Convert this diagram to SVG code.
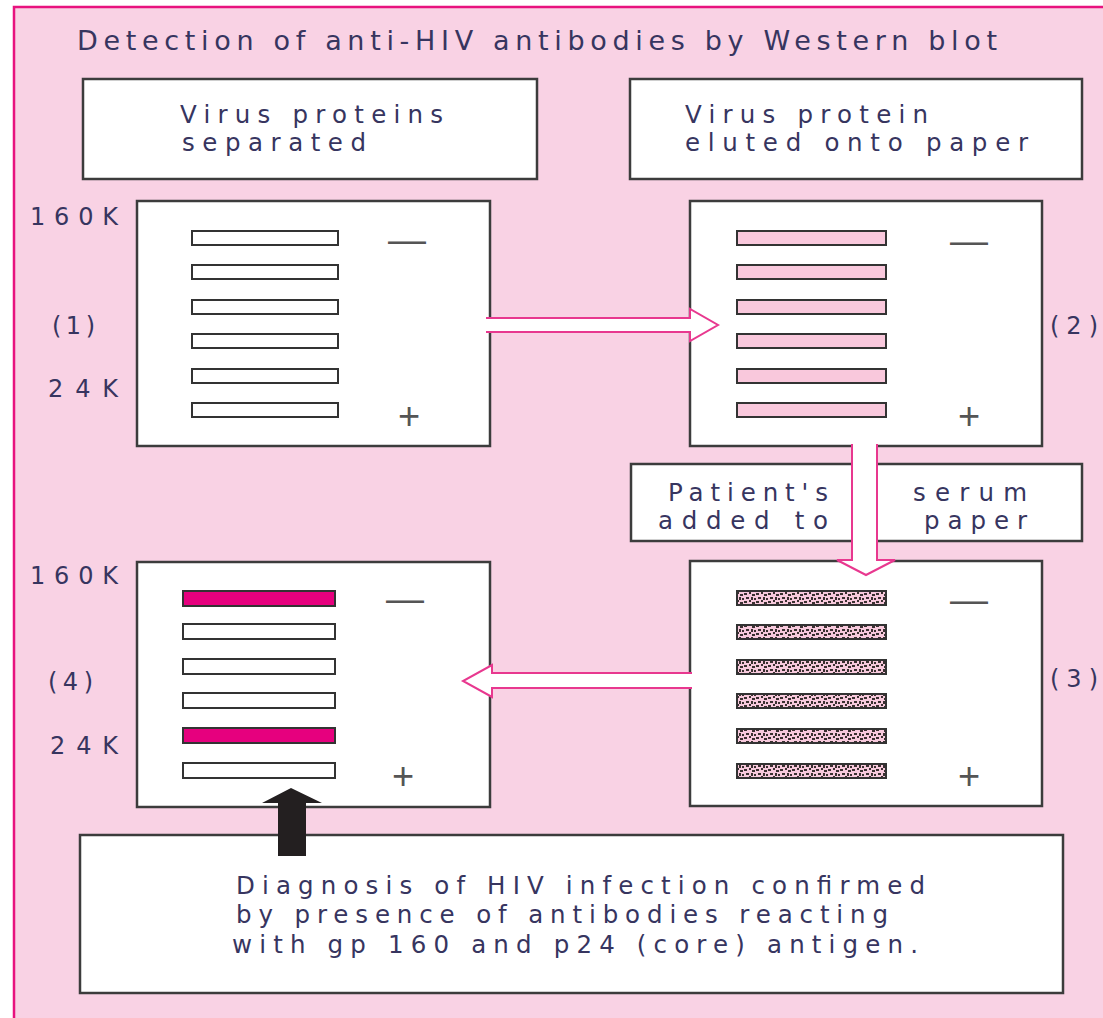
<svg xmlns="http://www.w3.org/2000/svg" width="1103" height="1018" viewBox="0 0 1103 1018">
<defs>
<pattern id="speck" width="12" height="8" patternUnits="userSpaceOnUse">
<rect width="12" height="8" fill="#f7c9dc"/>
<rect x="0" y="1" width="3" height="2" fill="#3a3030"/>
<rect x="5" y="0" width="2" height="2" fill="#3a3030"/>
<rect x="8" y="2" width="3" height="2" fill="#3a3030"/>
<rect x="2" y="5" width="3" height="2" fill="#3a3030"/>
<rect x="7" y="5" width="2" height="3" fill="#3a3030"/>
<rect x="10" y="6" width="2" height="2" fill="#3a3030"/>
</pattern>
</defs>
<style>
.box{fill:#ffffff;stroke:#3c3c3c;stroke-width:2.5}
.t{font-family:"DejaVu Sans",Verdana,sans-serif;fill:#37355f}
.big{font-size:24.5px}
.lab{font-size:24px}
.band{fill:#ffffff;stroke:#333;stroke-width:2}
.pband{fill:#f9c8dc;stroke:#333;stroke-width:2}
.dband{fill:url(#speck);stroke:#333;stroke-width:2}
.mband{fill:#e6007e;stroke:#333;stroke-width:2}
.sym{font-family:"Liberation Sans",Arial,sans-serif;font-size:38px;fill:#555}
.arr{fill:#ffffff;stroke:none}
.arrs{fill:none;stroke:#e8388f;stroke-width:2}
</style>
<rect x="0" y="0" width="1103" height="1018" fill="#ffffff"/>
<rect id="panel" x="14" y="7" width="1110" height="1030" fill="#f9d2e4" stroke="#e8127e" stroke-width="2.5"/>
<text class="t" x="77" y="50" font-size="27" textLength="920" lengthAdjust="spacing">Detection of anti-HIV antibodies by Western blot</text>

<g id="box-separated">
<rect class="box" x="83" y="79" width="454" height="100"/>
<text class="t big" x="180" y="123" textLength="263" lengthAdjust="spacing">Virus proteins</text>
<text class="t big" x="182" y="151" textLength="184" lengthAdjust="spacing">separated</text>
</g>
<g id="box-eluted">
<rect class="box" x="630" y="79" width="452" height="100"/>
<text class="t big" x="685" y="123" textLength="243" lengthAdjust="spacing">Virus protein</text>
<text class="t big" x="685" y="151" textLength="343" lengthAdjust="spacing">eluted onto paper</text>
</g>

<g id="strip1">
<rect class="box" x="137" y="201" width="353" height="245"/>
<rect class="band" x="192" y="231" width="146" height="14"/>
<rect class="band" x="192" y="265" width="146" height="14"/>
<rect class="band" x="192" y="300" width="146" height="14"/>
<rect class="band" x="192" y="334" width="146" height="14"/>
<rect class="band" x="192" y="369" width="146" height="14"/>
<rect class="band" x="192" y="403" width="146" height="14"/>
<text class="sym" x="388" y="253">—</text>
<text class="sym" x="398" y="429">+</text>
<text class="t lab" x="30" y="225" textLength="88" lengthAdjust="spacing">160K</text>
<text class="t lab" x="52" y="334" textLength="43" lengthAdjust="spacing">(1)</text>
<text class="t lab" x="48" y="397" textLength="70" lengthAdjust="spacing">24K</text>
</g>

<g id="strip2">
<rect class="box" x="690" y="201" width="352" height="245"/>
<rect class="pband" x="737" y="231" width="149" height="14"/>
<rect class="pband" x="737" y="265" width="149" height="14"/>
<rect class="pband" x="737" y="300" width="149" height="14"/>
<rect class="pband" x="737" y="334" width="149" height="14"/>
<rect class="pband" x="737" y="369" width="149" height="14"/>
<rect class="pband" x="737" y="403" width="149" height="14"/>
<text class="sym" x="950" y="254">—</text>
<text class="sym" x="958" y="429">+</text>
<text class="t lab" x="1050" y="334" textLength="48" lengthAdjust="spacing">(2)</text>
</g>

<g id="box-serum">
<rect class="box" x="631" y="464" width="451" height="77"/>
<text class="t big" x="668" y="501" textLength="160" lengthAdjust="spacing">Patient's</text>
<text class="t big" x="658" y="529" textLength="170" lengthAdjust="spacing">added to</text>
<text class="t big" x="913" y="501" textLength="114" lengthAdjust="spacing">serum</text>
<text class="t big" x="924" y="529" textLength="103" lengthAdjust="spacing">paper</text>
</g>

<g id="strip3">
<rect class="box" x="690" y="561" width="352" height="245"/>
<rect class="dband" x="737" y="591" width="149" height="14"/>
<rect class="dband" x="737" y="625" width="149" height="14"/>
<rect class="dband" x="737" y="660" width="149" height="14"/>
<rect class="dband" x="737" y="694" width="149" height="14"/>
<rect class="dband" x="737" y="729" width="149" height="14"/>
<rect class="dband" x="737" y="764" width="149" height="14"/>
<text class="sym" x="950" y="613">—</text>
<text class="sym" x="958" y="789">+</text>
<text class="t lab" x="1050" y="687" textLength="48" lengthAdjust="spacing">(3)</text>
</g>

<g id="strip4">
<rect class="box" x="137" y="562" width="353" height="245"/>
<rect class="mband" x="183" y="591" width="152" height="15"/>
<rect class="band" x="183" y="624" width="152" height="15"/>
<rect class="band" x="183" y="659" width="152" height="15"/>
<rect class="band" x="183" y="693" width="152" height="15"/>
<rect class="mband" x="183" y="728" width="152" height="15"/>
<rect class="band" x="183" y="763" width="152" height="15"/>
<text class="sym" x="386" y="612">—</text>
<text class="sym" x="392" y="789">+</text>
<text class="t lab" x="30" y="584" textLength="88" lengthAdjust="spacing">160K</text>
<text class="t lab" x="48" y="690" textLength="45" lengthAdjust="spacing">(4)</text>
<text class="t lab" x="50" y="754" textLength="68" lengthAdjust="spacing">24K</text>
</g>

<g id="box-diagnosis">
<rect class="box" x="80" y="835" width="983" height="158"/>
<text class="t big" x="236" y="894" textLength="689" lengthAdjust="spacing">Diagnosis of HIV infection confirmed</text>
<text class="t big" x="236" y="923" textLength="652" lengthAdjust="spacing">by presence of antibodies reacting</text>
<text class="t big" x="232" y="953" textLength="686" lengthAdjust="spacing">with gp 160 and p24 (core) antigen.</text>
</g>

<g id="connectors">
<polygon class="arr" points="486,318 690,318 690,309 718,325 690,341 690,332 486,332"/>
<polyline class="arrs" points="486,318 690,318 690,309 718,325 690,341 690,332 486,332"/>
<polygon class="arr" points="852,444 877,444 877,560 895,560 866,575 837,560 852,560"/>
<polyline class="arrs" points="852,444 852,560 837,560 866,575 895,560 877,560 877,444"/>
<polygon class="arr" points="692,673 492,673 492,665 463,681 492,697 492,688 692,688"/>
<polyline class="arrs" points="692,673 492,673 492,665 463,681 492,697 492,688 692,688"/>
<polygon fill="#231f20" points="291,788 322,803 306,803 306,856 278,856 278,803 262,803"/>
</g>
</svg>
